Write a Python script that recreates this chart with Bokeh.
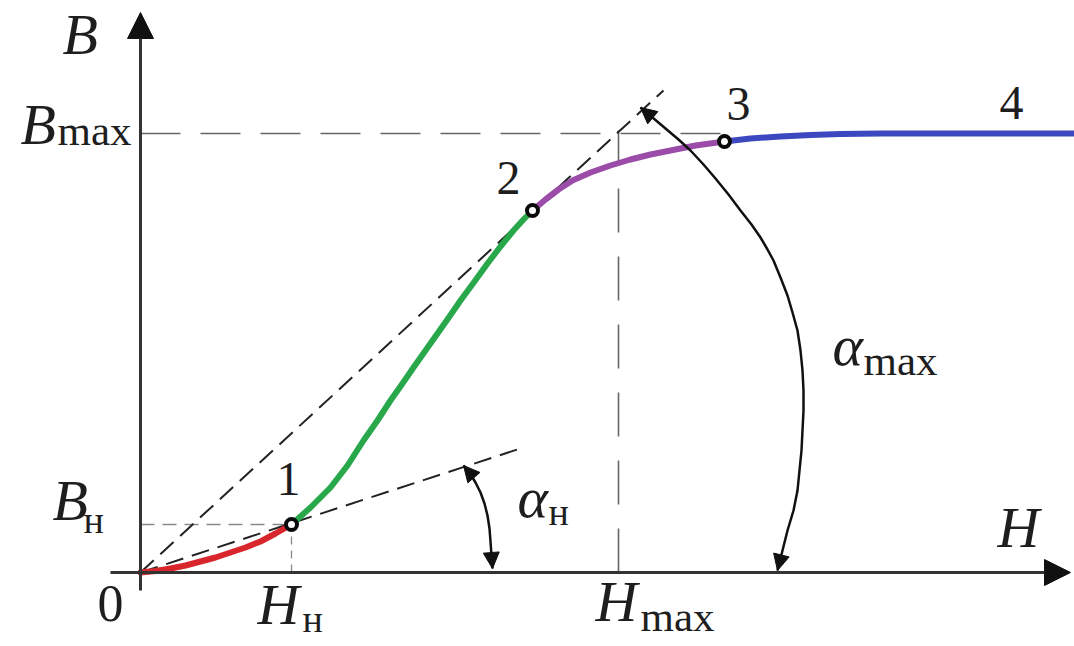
from bokeh.plotting import figure
from bokeh.models import Range1d, Arrow, NormalHead
from bokeh.core.properties import value
from bokeh.embed import file_html
from bokeh.resources import INLINE

# Magnetisation curve B(H), field strength H and induction B in drawing units
red_h = [0, 15, 30, 45, 60, 75, 90, 105, 120, 135, 151]
red_b = [0, 1.5, 4, 7, 11, 15, 20, 25, 31, 39, 48]
green_h = [151, 170, 190, 207, 223, 237, 250, 262, 273, 285, 297, 309, 320, 334, 347, 360, 373, 383, 392]
green_b = [48, 65, 85, 107, 132, 152, 172, 189, 205, 222, 239, 256, 272, 291, 309, 326, 342, 353, 362]
purple_h = [392, 405, 418, 432, 450, 470, 490, 510, 530, 555, 584]
purple_b = [362, 373, 383, 392, 400, 407, 413, 418, 422, 427, 431]
blue_h = [584, 610, 640, 670, 700, 740, 800, 934]
blue_b = [431, 434, 436, 437.5, 438.5, 439, 439, 439]

# Characteristic points 1, 2, 3
pt_h = [151, 392, 584]
pt_b = [48, 362, 431]

# Reference levels
H_n, B_n = 151, 48
H_max, B_max = 478, 439

# Angle arcs
amax_h = [500, 512, 525, 538, 550, 563, 575, 588, 600, 611, 620, 627, 633, 640, 647, 652,
          657, 660, 662, 663, 663, 662, 661, 659, 657, 653, 647, 642, 637]
amax_b = [465, 455, 444, 433, 422, 408, 394, 378, 362, 348, 335, 323, 312, 295, 277, 260,
          242, 222, 202, 182, 162, 142, 122, 102, 82, 62, 42, 22, 2]
an_h = [323, 329, 335, 340, 344, 347, 349, 350, 351, 352]
an_b = [107, 100, 90, 80, 69, 57, 44, 31, 17, 4]

SERIF = value("Liberation Serif")
INK = "#1e1e1e"
Y0 = 572  # pixel row of the H axis


def base(px_row, size):
    # data y that puts the text baseline on the given pixel row
    return Y0 - px_row + 0.4 * size


p = figure(width=1074, height=646, x_range=Range1d(-140, 934), y_range=Range1d(-74, 572),
           output_backend="svg", toolbar_location=None, x_axis_type=None, y_axis_type=None,
           min_border=0, min_border_left=0, min_border_right=0, min_border_top=0, min_border_bottom=0)
p.grid.visible = False
p.outline_line_color = None
p.background_fill_color = "white"

# Guide lines
p.line([0, 584], [B_max, B_max], line_color="#666666", line_width=1.6, line_dash="40 20")
p.line([H_max, H_max], [0, B_max + 3], line_color="#666666", line_width=1.6, line_dash="44 24")
p.line([0, H_n], [B_n, B_n], line_color="#8a8a8a", line_width=1.3, line_dash="14 8")
p.line([H_n, H_n], [0, B_n], line_color="#8a8a8a", line_width=1.3, line_dash="8 6")
p.line([0, 523], [0, 482], line_color="#222222", line_width=2, line_dash="18 9")
p.line([0, 383], [0, 125], line_color="#222222", line_width=2, line_dash="18 9")

# Axes with arrow heads
p.add_layout(Arrow(x_start=-30, y_start=0, x_end=930, y_end=0, line_color="#333333", line_width=3,
                   end=NormalHead(size=26, fill_color="#111111", line_color="#111111")))
p.add_layout(Arrow(x_start=0, y_start=-18, x_end=0, y_end=560, line_color="#333333", line_width=3,
                   end=NormalHead(size=26, fill_color="#111111", line_color="#111111")))

# Curve segments
p.line(red_h, red_b, line_color="#d8262c", line_width=6, line_cap="round", line_join="round")
p.line(green_h, green_b, line_color="#28a84b", line_width=6, line_cap="round", line_join="round")
p.line(purple_h, purple_b, line_color="#9b4ba8", line_width=6, line_cap="round", line_join="round")
p.line(blue_h, blue_b, line_color="#3c48bf", line_width=6, line_cap="round", line_join="round")

# Angle arcs with arrow heads at both ends
for hh, bb in ((amax_h, amax_b), (an_h, an_b)):
    p.line(hh, bb, line_color="#111111", line_width=2.5, line_join="round")
    p.add_layout(Arrow(x_start=hh[1], y_start=bb[1], x_end=hh[0], y_end=bb[0], line_alpha=0,
                       end=NormalHead(size=16, fill_color="#111111", line_color="#111111")))
    p.add_layout(Arrow(x_start=hh[-2], y_start=bb[-2], x_end=hh[-1], y_end=bb[-1], line_alpha=0,
                       end=NormalHead(size=16, fill_color="#111111", line_color="#111111")))

p.scatter(pt_h, pt_b, size=11, fill_color="white", line_color="#0a0a0a", line_width=4)

# Italic symbols
p.text(x=[-78, -88, 117, 455, 857, -120],
       y=[base(57, 58), base(523, 58), base(627, 58), base(624, 58), base(550, 58), base(147, 58)],
       text=["B", "B", "H", "H", "H", "B"],
       text_font=SERIF, text_font_style="italic", text_font_size="58px", text_color=INK,
       text_baseline="alphabetic", text_align="left")
p.text(x=[377, 692], y=[base(520, 58), base(368, 58)], text=["α", "α"], text_font=SERIF,
       text_font_style="italic", text_font_size="58px", text_color=INK,
       text_baseline="alphabetic", text_align="left")

# Subscripts
p.text(x=[-83, 500, 723], y=[base(147, 43), base(633, 43), base(377, 43)],
       text=["max", "max", "max"], text_font=SERIF,
       text_font_size="43px", text_color=INK, text_baseline="alphabetic", text_align="left")
p.text(x=[-57, 162, 408], y=[base(535, 38), base(634, 38), base(527, 38)],
       text=["н", "н", "н"], text_font=SERIF,
       text_font_size="38px", text_color=INK, text_baseline="alphabetic", text_align="left")

# Origin and point numbers
p.text(x=[-43], y=[base(624, 52)], text=["0"], text_font=SERIF, text_font_size="52px",
       text_color=INK, text_baseline="alphabetic", text_align="left")
p.text(x=[148, 368, 598, 871], y=[base(498, 48), base(197, 48), base(123, 48), base(122, 48)],
       text=["1", "2", "3", "4"], text_font=SERIF,
       text_font_size="48px", text_color=INK, text_baseline="alphabetic", text_align="center")

open("out.html", "w").write(file_html(p, INLINE))
